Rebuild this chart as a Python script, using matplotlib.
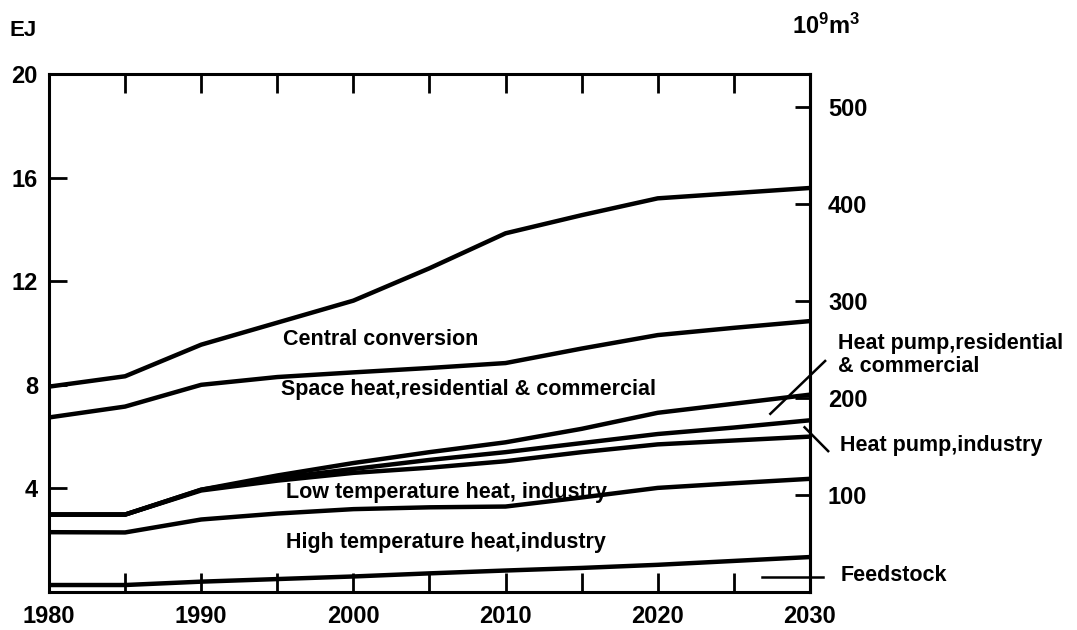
import matplotlib
matplotlib.use("Agg")
import matplotlib.pyplot as plt

plt.rcParams['font.family'] = ['Liberation Sans', 'DejaVu Sans']
plt.rcParams['font.weight'] = 'bold'
plt.rcParams['mathtext.fontset'] = 'custom'
plt.rcParams['mathtext.bf'] = 'Liberation Sans:bold'
plt.rcParams['mathtext.rm'] = 'Liberation Sans:bold'

years = [1980, 1985, 1990, 1995, 2000, 2005, 2010, 2015, 2020, 2025, 2030]

# boundary lines (EJ, cumulative), top to bottom
total = [7.93, 8.33, 9.55, 10.4, 11.25, 12.5, 13.85, 14.55, 15.2, 15.4, 15.6]
central_base = [6.74, 7.16, 8.0, 8.3, 8.48, 8.65, 8.84, 9.4, 9.92, 10.2, 10.46]
space_base = [2.99, 2.99, 3.95, 4.5, 4.98, 5.4, 5.78, 6.3, 6.92, 7.27, 7.62]
hp_res_base = [2.99, 2.99, 3.95, 4.4, 4.75, 5.1, 5.4, 5.75, 6.1, 6.35, 6.63]
hp_ind_base = [2.99, 2.99, 3.92, 4.3, 4.6, 4.8, 5.05, 5.4, 5.7, 5.85, 6.0]
low_base = [2.31, 2.30, 2.8, 3.03, 3.2, 3.27, 3.3, 3.65, 4.02, 4.2, 4.37]
high_base = [0.27, 0.27, 0.4, 0.5, 0.6, 0.72, 0.83, 0.93, 1.05, 1.2, 1.35]

boundaries = [total, central_base, space_base, hp_res_base, hp_ind_base, low_base, high_base]

year_ticks = [1980, 1990, 2000, 2010, 2020, 2030]
ej_ticks = [4, 8, 12, 16, 20]
m3_ticks = [100, 200, 300, 400, 500]
m3_per_ej = 26.7

fig = plt.figure(figsize=(10.77, 6.3), dpi=100)
ax = fig.add_axes([0.0455, 0.0603, 0.7065, 0.8222])

for b in boundaries:
    ax.plot(years, b, color='black', lw=3.2, solid_capstyle='butt')

ax.set_xlim(1980, 2030)
ax.set_ylim(0, 20)

for s in ax.spines.values():
    s.set_linewidth(2.2)

ax.set_xticks(year_ticks)
ax.set_xticks(range(1985, 2030, 10), minor=True)
ax.set_yticks(ej_ticks)
ax.tick_params(axis='x', which='both', direction='in', length=14, width=2,
               top=True, labelsize=17, pad=9)
ax.tick_params(axis='y', which='both', direction='in', length=13, width=2,
               labelsize=17, pad=8)

sec = ax.secondary_yaxis('right', functions=(lambda e: e * m3_per_ej,
                                             lambda m: m / m3_per_ej))
sec.set_yticks(m3_ticks)
sec.tick_params(direction='in', length=11, width=2, labelsize=17, pad=13)
sec.spines['right'].set_linewidth(2.2)

fig.text(0.009, 0.952, 'EJ', fontsize=16, fontweight='bold', va='center')
fig.text(0.735, 0.958, r'$\mathbf{10^9m^3}$', fontsize=17, va='center')

lab = dict(fontsize=15.5, fontweight='bold', va='center', ha='left')
ax.text(0.307, 0.488, 'Central conversion', transform=ax.transAxes, **lab)
ax.text(0.305, 0.39, 'Space heat,residential & commercial', transform=ax.transAxes, **lab)
ax.text(0.311, 0.193, 'Low temperature heat, industry', transform=ax.transAxes, **lab)
ax.text(0.311, 0.095, 'High temperature heat,industry', transform=ax.transAxes, **lab)

ax.text(1.037, 0.457, 'Heat pump,residential\n& commercial', transform=ax.transAxes,
        fontsize=15.5, fontweight='bold', va='center', ha='left', linespacing=1.12)
ax.text(1.04, 0.282, 'Heat pump,industry', transform=ax.transAxes, **lab)
ax.text(1.04, 0.032, 'Feedstock', transform=ax.transAxes, **lab)

# leader lines
kw = dict(transform=ax.transAxes, color='black', lw=1.8, clip_on=False)
ax.plot([0.948, 1.02], [0.344, 0.446], **kw)
ax.plot([0.993, 1.024], [0.318, 0.272], **kw)
ax.plot([0.937, 1.017], [0.029, 0.029], **kw)

fig.savefig('out.png', dpi=100)
